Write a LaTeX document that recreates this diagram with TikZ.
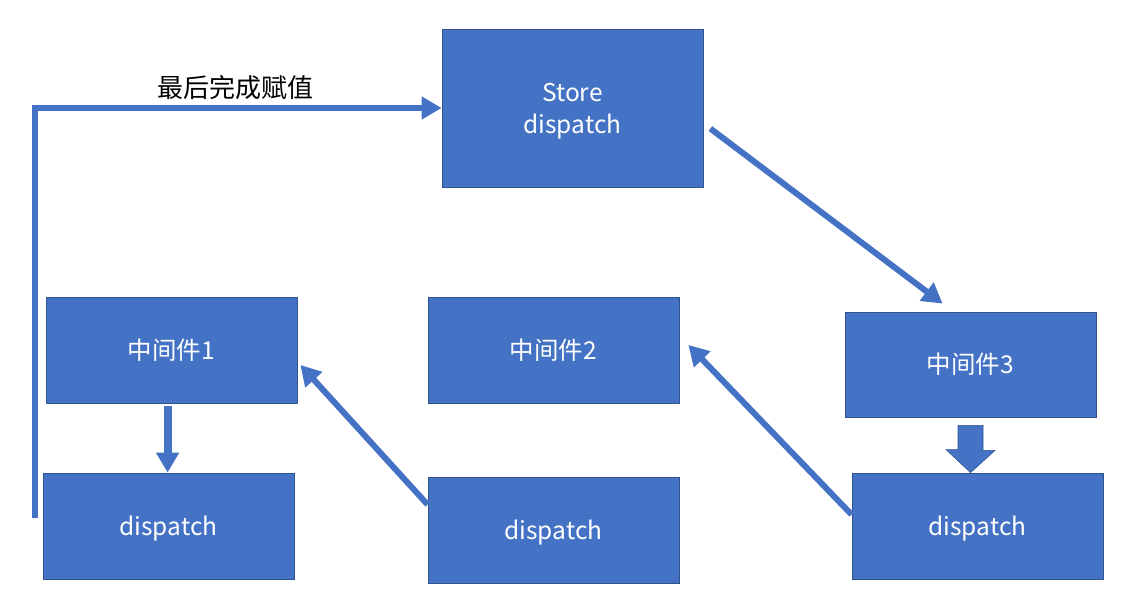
\documentclass[tikz,border=0pt]{standalone}
\usepackage{fontspec}
\setmainfont{Noto Sans CJK SC}
\usetikzlibrary{arrows.meta,calc}
\definecolor{boxblue}{HTML}{4472C4}
\definecolor{boxedge}{HTML}{2F528F}
\tikzset{
  blk/.style={draw=boxedge, line width=0.8pt, fill=boxblue, text=white, inner sep=0pt,
    font=\fontsize{24.5}{32}\selectfont, align=center},
  conn/.style={draw=boxblue, line width=6pt, -{Triangle[length=20pt,width=22pt]}},
}
\begin{document}
\begin{tikzpicture}[x=1pt,y=-1pt]
\useasboundingbox (0,0) rectangle (1133,591);
% boxes
\node[blk, minimum width=261pt, minimum height=158pt] (store) at (572.5,108) {};
\node[text=white, font=\fontsize{24.5}{32}\selectfont, align=center, inner sep=0pt] (stxt) at ($(store.center)+(0,3.5)$) {Store\\dispatch};
\node[blk, minimum width=251pt, minimum height=106pt] (m1) at (171.5,350) {中间件1};
\node[blk, minimum width=251pt, minimum height=106pt] (m2) at (553.5,350) {中间件2};
\node[blk, minimum width=251pt, minimum height=105pt] (m3) at (970.5,364.5) {中间件3};
\node[blk, minimum width=251pt, minimum height=106pt, text depth=1.5pt] (d1) at (168.5,526) {dispatch};
\node[blk, minimum width=251pt, minimum height=106pt, text depth=1.5pt] (d2) at (553.5,530) {dispatch};
\node[blk, minimum width=251pt, minimum height=106pt, text depth=1.5pt] (d3) at (977.5,526) {dispatch};
% label
\node[font=\fontsize{26}{30}\selectfont, text=black, inner sep=0pt] (lbl) at (235,88) {最后完成赋值};
% connectors
\coordinate (ls) at ($(d1.south west)+(-8,-61)$);
\draw[conn] (ls) |- (store.west);
\draw[conn] ($(store.north east)+(7,100)$) -- ($(m3.north west)+(98,-8)$);
\draw[conn, line width=8pt] ($(m1.south west)+(122,3)$) -- (d1.north -| {$(m1.south west)+(122,3)$});
\draw[conn] (d2.west |- {$(d2.north)+(0,28)$}) -- ($(m1.east)+(3,15)$);
\draw[conn] (d3.west |- {$(d3.north)+(0,42)$}) -- ($(m2.east)+(9,-5)$);
% block arrow
\draw[boxedge, line width=0.6pt, fill=boxblue]
  ($(m3.south)+(-12.5,8)$) -- ++(25,0) -- ++(0,25) -- ++(12,0) -- (d3.north -| m3.south) -- ++(-24.5,-23) -- ++(12,0) -- cycle;
\end{tikzpicture}
\end{document}
